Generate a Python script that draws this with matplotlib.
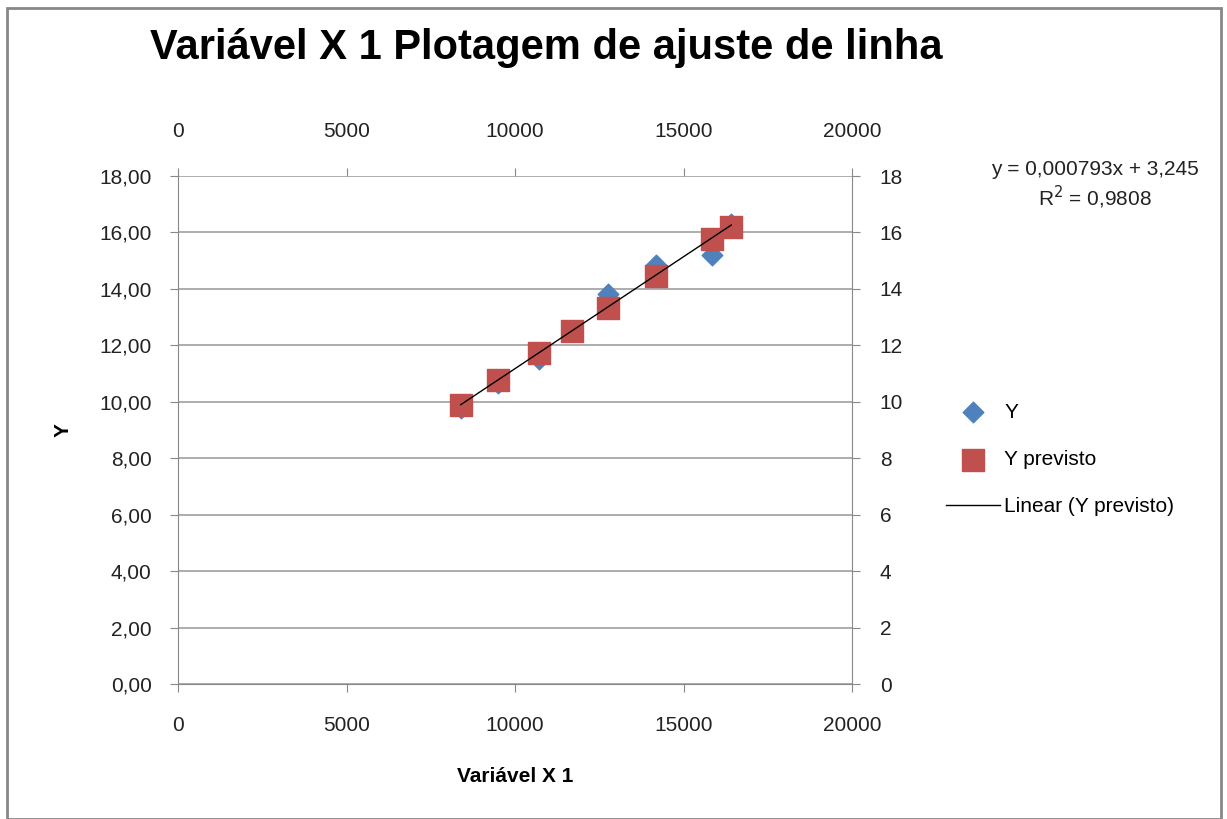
import numpy as np
import matplotlib
matplotlib.use("Agg")
import matplotlib.pyplot as plt
from matplotlib.ticker import FuncFormatter
from matplotlib.patches import Rectangle

plt.rcParams["font.family"] = ["Liberation Sans", "DejaVu Sans"]

# dados
x1 = [8389, 9504, 10712, 11700, 12769, 14175, 15846, 16418]
y_obs = [9.78, 10.65, 11.50, 12.50, 13.81, 14.85, 15.20, 16.30]
y_prev = [9.90, 10.77, 11.73, 12.51, 13.33, 14.46, 15.77, 16.20]
coef_a = 0.000793
coef_b = 3.245
r2 = 0.9808

x_ticks = [0, 5000, 10000, 15000, 20000]
y_ticks = [0, 2, 4, 6, 8, 10, 12, 14, 16, 18]

fig = plt.figure(figsize=(12.27, 8.19), dpi=100)
fig.patches.append(Rectangle((0.006, 0.0), 0.989, 0.99, transform=fig.transFigure,
                             fill=False, edgecolor="#888888", linewidth=2))

ax = fig.add_axes([0.1451, 0.1648, 0.5493, 0.6203])
ax.set_xlim(0, 20000)
ax.set_ylim(0, 18)

ax.grid(axis="y", color="#a0a0a0", linewidth=1.2)
ax.set_axisbelow(True)

ax.scatter(x1, y_obs, marker="D", s=110, color="#4f81bd", label="Y", zorder=3)
ax.scatter(x1, y_prev, marker="s", s=260, color="#c0504d", label="Y previsto", zorder=4)
xs = np.array([min(x1), max(x1)])
ax.plot(xs, coef_a * xs + coef_b, color="black", linewidth=1.0,
        label="Linear (Y previsto)", zorder=5)

ax.set_xticks(x_ticks)
ax.set_yticks(y_ticks)
ax.yaxis.set_major_formatter(FuncFormatter(lambda v, p: f"{v:.2f}".replace(".", ",")))
ax.tick_params(axis="both", labelsize=15, color="#888888", length=6, direction="out",
               labelcolor="#222222")
ax.tick_params(axis="y", pad=13)
ax.tick_params(axis="x", pad=17)

for s in ["left", "bottom", "right"]:
    ax.spines[s].set_color("#888888")
ax.spines["top"].set_visible(False)

ax.set_xlabel("Variável X 1", fontsize=15, fontweight="bold", labelpad=23)
ax.set_ylabel("Y", fontsize=15, fontweight="bold", labelpad=19)

axt = ax.twiny()
axt.set_xlim(0, 20000)
axt.set_xticks(x_ticks)
axt.tick_params(axis="x", labelsize=15, color="#888888", length=6, labelcolor="#222222", pad=19)
for s in axt.spines.values():
    s.set_visible(False)

axr = ax.twinx()
axr.set_ylim(0, 18)
axr.set_yticks(y_ticks)
axr.tick_params(axis="y", labelsize=15, color="#888888", length=6, labelcolor="#222222", pad=14)
for s in axr.spines.values():
    s.set_visible(False)

fig.text(0.1225, 0.942, "Variável X 1 Plotagem de ajuste de linha", fontsize=30,
         fontweight="bold", va="center", ha="left")

fig.text(0.892, 0.793, f"y = {coef_a:.6f}x + {coef_b:.3f}".replace(".", ","),
         fontsize=15, ha="center", va="center", color="#222222")
fig.text(0.892, 0.759, f"R$^2$ = {r2:.4f}".replace(".", ","),
         fontsize=15, ha="center", va="center", color="#222222")

fig.legend(loc="upper left", bbox_to_anchor=(0.7555, 0.531), frameon=False, fontsize=15,
           handlelength=2.6, labelspacing=1.35, handletextpad=0.2)

fig.savefig("out.png", dpi=100)
